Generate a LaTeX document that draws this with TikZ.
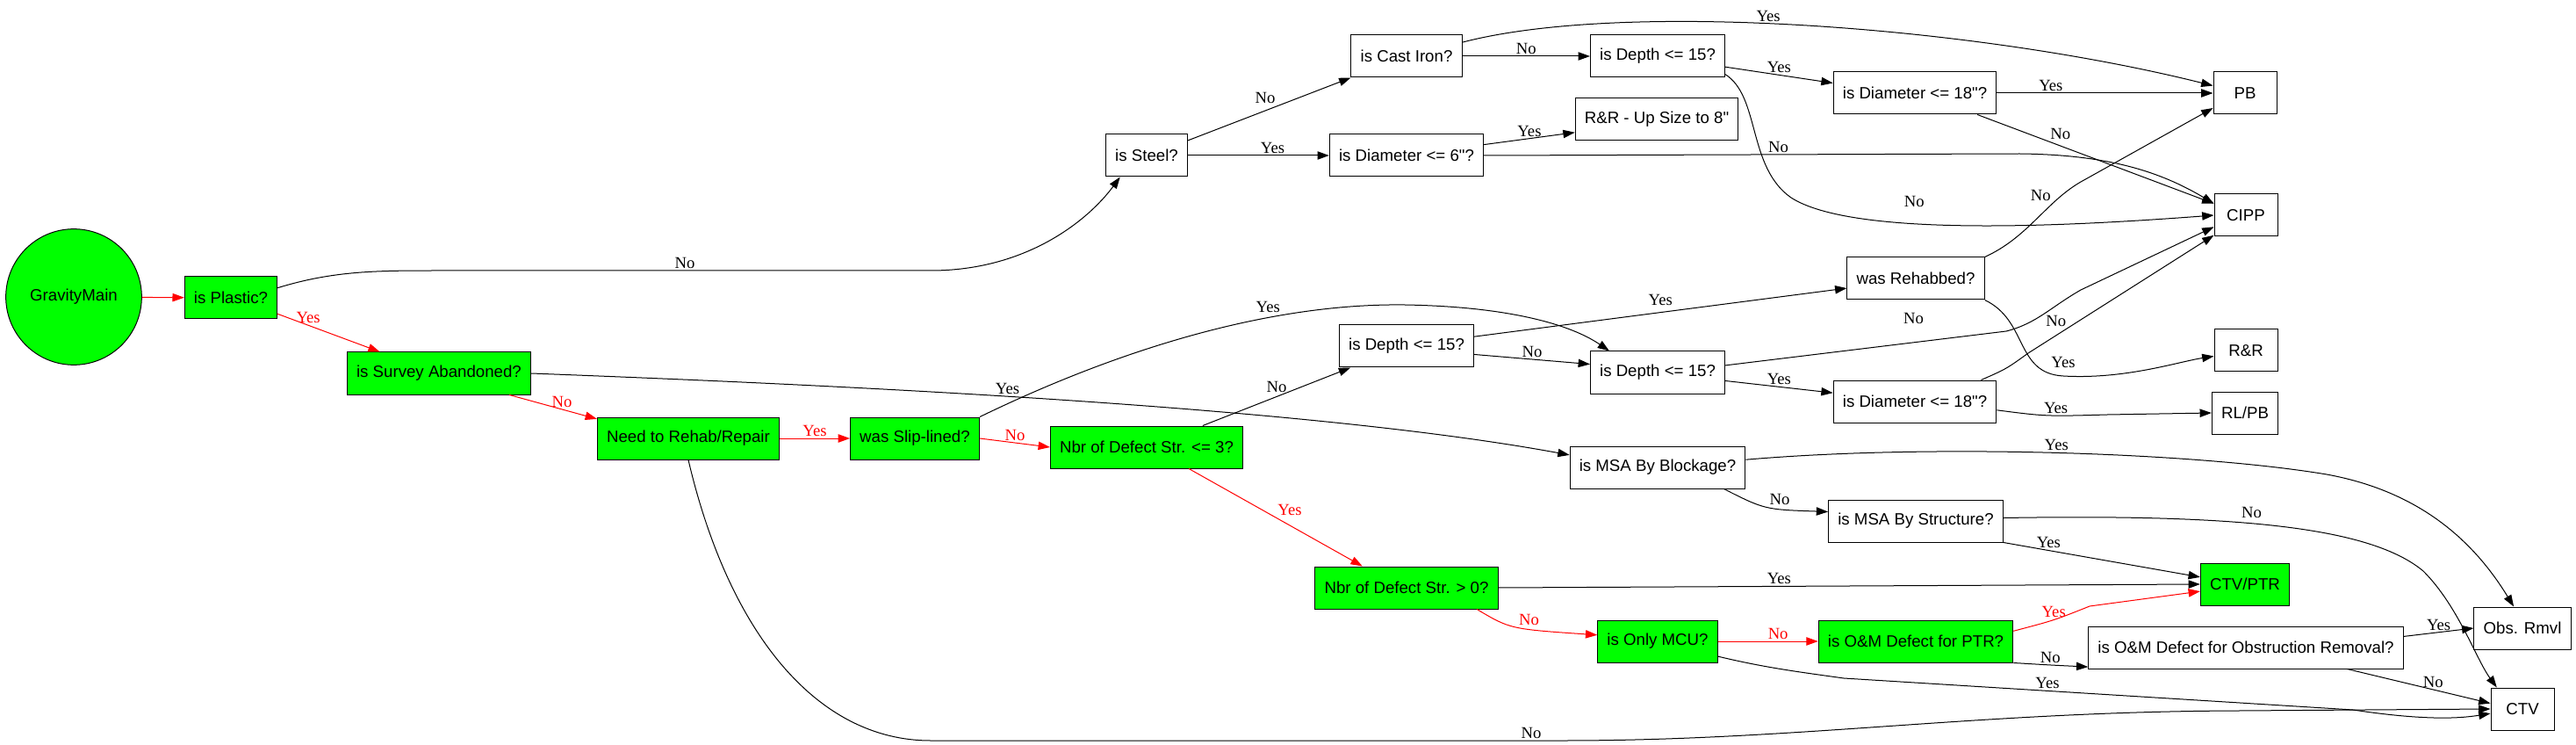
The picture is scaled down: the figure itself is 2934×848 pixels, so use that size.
\documentclass[tikz,border=0pt]{standalone}
\usepackage{fontspec}
\usepackage{xcolor}
\usetikzlibrary{arrows.meta}
\newfontfamily\boxfont{Liberation Sans}
\newfontfamily\edgefont{Liberation Serif}
\tikzset{
  decision/.style={rectangle, draw=black, line width=0.75pt,
                   minimum height=36pt, minimum width=54pt, inner xsep=8pt,
                   font={\boxfont\fontsize{14pt}{16pt}\selectfont}},
  pathbox/.style={decision, fill=green},
  startnode/.style={circle, draw=black, line width=0.75pt, fill=green,
                    minimum size=116pt, inner sep=0pt,
                    font={\boxfont\fontsize{14pt}{16pt}\selectfont}},
  arrow/.style={-{Triangle[length=10pt,width=7pt]}, line width=0.75pt, draw=black},
  redarrow/.style={arrow, draw=red},
  lbl/.style={font={\edgefont\fontsize{14pt}{16pt}\selectfont}, inner sep=1.5pt},
  redlbl/.style={lbl, text=red},
}

\begin{document}
\begin{tikzpicture}[x=0.75pt, y=-0.75pt]
  \useasboundingbox (0,0) rectangle (2934,848);

  % decision nodes, by rank
  \node[startnode] (gm) at (84,338) {GravityMain};
  \node[pathbox] (plastic) at (263,339) {is Plastic?};
  \node[pathbox] (survey) at (500,425) {is Survey Abandoned?};
  \node[pathbox] (need) at (784,499) {Need to Rehab/Repair};
  \node[pathbox] (slip) at (1042,499) {was Slip-lined?};
  \node[decision] (steel) at (1306,177) {is Steel?};
  \node[pathbox] (nbrthree) at (1306,509) {Nbr of Defect Str. <= 3?};
  \node[decision] (castiron) at (1602,64) {is Cast Iron?};
  \node[decision] (diasix) at (1602,177) {is Diameter <= 6"?};
  \node[decision] (depthml) at (1602,394) {is Depth <= 15?};
  \node[pathbox] (nbrzero) at (1602,669) {Nbr of Defect Str. > 0?};
  \node[decision] (depthtop) at (1888,64) {is Depth <= 15?};
  \node[decision] (upsize) at (1887,136) {R\&R - Up Size to 8"};
  \node[decision] (depthmr) at (1888,424) {is Depth <= 15?};
  \node[decision] (blockage) at (1888,532) {is MSA By Blockage?};
  \node[pathbox] (onlymcu) at (1888,730) {is Only MCU?};
  \node[decision] (diatop) at (2181,106) {is Diameter <= 18"?};
  \node[decision] (rehabbed) at (2182,317) {was Rehabbed?};
  \node[decision] (diamid) at (2181,457) {is Diameter <= 18"?};
  \node[decision] (structure) at (2182,593) {is MSA By Structure?};
  \node[pathbox] (omptr) at (2182,730) {is O\&M Defect for PTR?};
  % outcomes
  \node[decision] (pb) at (2557,106) {PB};
  \node[decision] (cipp) at (2558,245) {CIPP};
  \node[decision] (rr) at (2558,399) {R\&R};
  \node[decision] (rlpb) at (2557,470) {RL/PB};
  \node[pathbox] (ctvptr) at (2557,665) {CTV/PTR};
  \node[decision] (obstr) at (2558,737) {is O\&M Defect for Obstruction Removal?};
  \node[decision] (obsrmvl) at (2873,715) {Obs. Rmvl};
  \node[decision] (ctv) at (2873,807) {CTV};

  % highlighted path
  \draw[redarrow] (gm) -- (plastic);
  \draw[redarrow] (plastic.-19) -- node[redlbl, pos=.3, above]{Yes} (survey.160);
  \draw[redarrow] (survey.-17) -- node[redlbl, pos=.6, above]{No} (need.168);
  \draw[redarrow] (need.east) -- node[redlbl, above]{Yes} (slip.west);
  \draw[redarrow] (slip.east) -- node[redlbl, above]{No} (nbrthree.west);
  \draw[redarrow] (nbrthree.-27) -- node[redlbl, pos=.5, above right]{Yes} (nbrzero.154);
  \draw[redarrow] (nbrzero.-17) .. controls (1720,716) .. node[redlbl, pos=.5, above right]{No} (onlymcu.174);
  \draw[redarrow] (onlymcu.east) -- node[redlbl, pos=.6, above]{No} (omptr.west);
  \draw[redarrow] (omptr.6) .. controls (2340,706) .. node[redlbl, pos=.5, above]{Yes} (2380,690) -- (ctvptr.189);

  % other branches
  \draw[arrow] (plastic.12) .. controls (380,308) and (430,308) .. (500,308)
    -- node[lbl, above]{No} (1060,308) .. controls (1170,308) and (1240,250) .. (steel.219);
  \draw[arrow] (survey.east) .. controls (1000,440) and (1500,465) .. node[lbl, pos=.43, above]{Yes} (blockage.172);
  \draw[arrow] (need.south) .. controls (830,720) and (930,843) .. (1060,843)
    -- node[lbl, pos=.95, above]{No} (1780,843) .. controls (2050,843) and (2250,810) .. (2550,809) -- (ctv.west);
  \draw[arrow] (slip.north east) .. controls (1280,395) and (1450,345) .. node[lbl, pos=.7, anchor=south east]{Yes} (1600,347)
    .. controls (1720,349) and (1790,370) .. (depthmr.156);
  \draw[arrow] (nbrthree.21) -- node[lbl, pos=.5, above=2pt]{No} (depthml.201);
  \draw[arrow] (steel.20) -- node[lbl, pos=.55, above left]{No} (castiron.south west);
  \draw[arrow] (steel.east) -- node[lbl, pos=.6, above]{Yes} (diasix.west);
  \draw[arrow] (castiron.14) .. controls (1850,0) and (2250,30) .. node[lbl, pos=.45, above]{Yes} (pb.167);
  \draw[arrow] (castiron.east) -- node[lbl, above]{No} (depthtop.west);
  \draw[arrow] (depthtop.-9) -- node[lbl, above]{Yes} (diatop.173);
  \draw[arrow] (depthtop.-15) .. controls (2005,110) and (1990,190) .. (2040,225)
    .. controls (2110,270) and (2350,258) .. node[lbl, pos=.38, above=12pt]{No} (cipp.west);
  \draw[arrow] (diasix.8) -- node[lbl, above]{Yes} (upsize.189);
  \draw[arrow] (diasix.east) -- node[lbl, pos=.55, above]{No} (2300,175) .. controls (2400,176) and (2460,195) .. (cipp.160);
  \draw[arrow] (diatop.east) -- node[lbl, pos=.25, above]{Yes} (pb.west);
  \draw[arrow] (diatop.-19) -- node[lbl, pos=.3, above right]{No} (cipp.160);
  \draw[arrow] (rehabbed.north east) .. controls (2310,270) and (2330,230) .. node[lbl, pos=.7, above left]{No} (2370,207) -- (pb.205);
  \draw[arrow] (rehabbed.south east) .. controls (2310,365) and (2295,425) .. (2350,428)
    .. controls (2420,432) and (2480,412) .. node[lbl, pos=0, above=5pt]{Yes} (rr.190);
  \draw[arrow] (depthml.8) -- node[lbl, pos=.5, above=4pt]{Yes} (rehabbed.188);
  \draw[arrow] (depthml.-7) -- node[lbl, above]{No} (depthmr.173);
  \draw[arrow] (depthmr.6) -- node[lbl, pos=.67, above=14pt]{No} (2285,377)
    .. controls (2320,368) and (2335,350) .. (2370,330) -- (cipp.200);
  \draw[arrow] (depthmr.-7) -- node[lbl, above]{Yes} (diamid.174);
  \draw[arrow] (diamid.18) .. controls (2285,420) .. (2310,402) -- node[lbl, pos=.15, above=6pt]{No} (cipp.212);
  \draw[arrow] (diamid.-6) .. controls (2330,474) .. node[lbl, pos=.6, above]{Yes} (2400,472) -- (rlpb.west);
  \draw[arrow] (blockage.5) .. controls (2200,505) and (2500,515) .. node[lbl, pos=.5, above]{Yes} (2650,540)
    .. controls (2760,560) and (2820,620) .. (obsrmvl.112);
  \draw[arrow] (blockage.-18) .. controls (2010,580) .. node[lbl, pos=.5, above right]{No} (structure.174);
  \draw[arrow] (structure.south east) -- node[lbl, pos=.23, above]{Yes} (ctvptr.171);
  \draw[arrow] (structure.2) .. controls (2550,585) and (2700,600) .. node[lbl, pos=.43, above=3pt]{No} (2760,650)
    .. controls (2800,690) and (2820,750) .. (ctv.140);
  \draw[arrow] (nbrzero.east) -- node[lbl, pos=.4, above]{Yes} (ctvptr.west);
  \draw[arrow] (onlymcu.-14) .. controls (2010,760) and (2050,765) .. (2100,772)
    -- node[lbl, pos=.4, above]{Yes} (2680,808) .. controls (2760,820) and (2800,818) .. (ctv.188);
  \draw[arrow] (omptr.south east) .. controls (2335,757) .. node[lbl, pos=.5, above]{No} (obstr.187);
  \draw[arrow] (obstr.4) -- node[lbl, above]{Yes} (obsrmvl.west);
  \draw[arrow] (obstr.-12) -- node[lbl, pos=.6, above]{No} (ctv.170);
\end{tikzpicture}
\end{document}
